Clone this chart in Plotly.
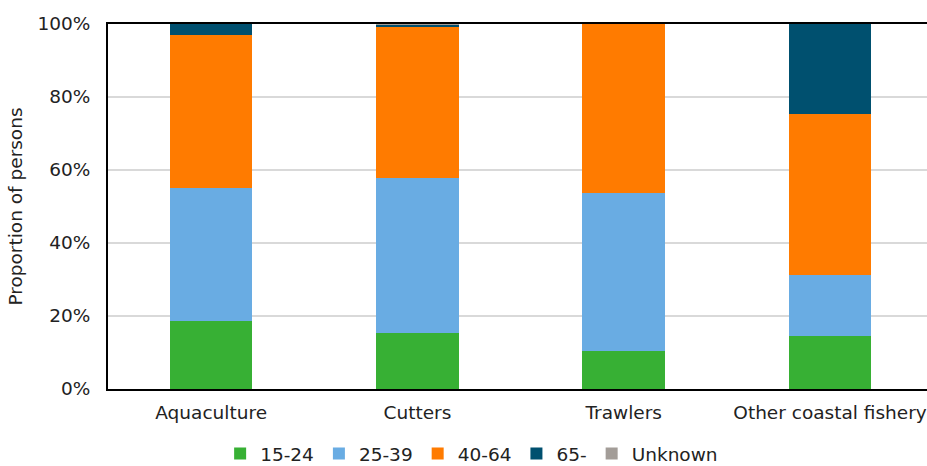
import plotly.graph_objects as go

# Share of persons by age group, per segment (percent of total)
categories = ["Aquaculture", "Cutters", "Trawlers", "Other coastal fishery"]
age_groups = ["15-24", "25-39", "40-64", "65-", "Unknown"]
age_15_24 = [18.5, 15.3, 10.3, 14.6]
age_25_39 = [36.5, 42.6, 43.3, 16.5]
age_40_64 = [41.9, 41.5, 46.4, 44.3]
age_65_plus = [3.1, 0.4, 0.0, 24.6]
age_unknown = [0.0, 0.2, 0.0, 0.0]
y_ticks = [0, 20, 40, 60, 80, 100]
y_tick_labels = ["0%", "20%", "40%", "60%", "80%", "100%"]

series = [age_15_24, age_25_39, age_40_64, age_65_plus, age_unknown]
colors = ["#37B034", "#69ACE3", "#FF7B00", "#00506F", "#A39D98"]

fig = go.Figure()
for name, vals, col in zip(age_groups, series, colors):
    fig.add_trace(go.Bar(
        x=categories, y=vals, name=name,
        marker=dict(color=col, line=dict(width=0)),
        width=0.4,
    ))

font = dict(family="DejaVu Sans, Verdana, sans-serif", size=18.5, color="#222222")

fig.update_layout(
    barmode="stack",
    width=927, height=466,
    margin=dict(l=108, r=0, t=24, b=77, autoexpand=False),
    paper_bgcolor="white", plot_bgcolor="white",
    font=font,
    showlegend=True,
    legend=dict(
        orientation="h", x=0.444, xanchor="center", y=-0.178, yanchor="middle",
        font=font, traceorder="normal", tracegroupgap=0,
    ),
    xaxis=dict(
        range=[-0.5, 3.47],
        showline=True, linecolor="black", linewidth=2, mirror=True,
        ticks="", ticklabelstandoff=6,
    ),
    yaxis=dict(
        range=[0, 100], tickmode="array", tickvals=y_ticks, ticktext=y_tick_labels,
        showgrid=True, gridcolor="#D9D9D9", gridwidth=1.5,
        showline=True, linecolor="black", linewidth=2,
        ticks="", ticklabelstandoff=12, zeroline=False,
        title=dict(text="Proportion of persons", standoff=10, font=font),
    ),
)

fig.write_html("out.html")
